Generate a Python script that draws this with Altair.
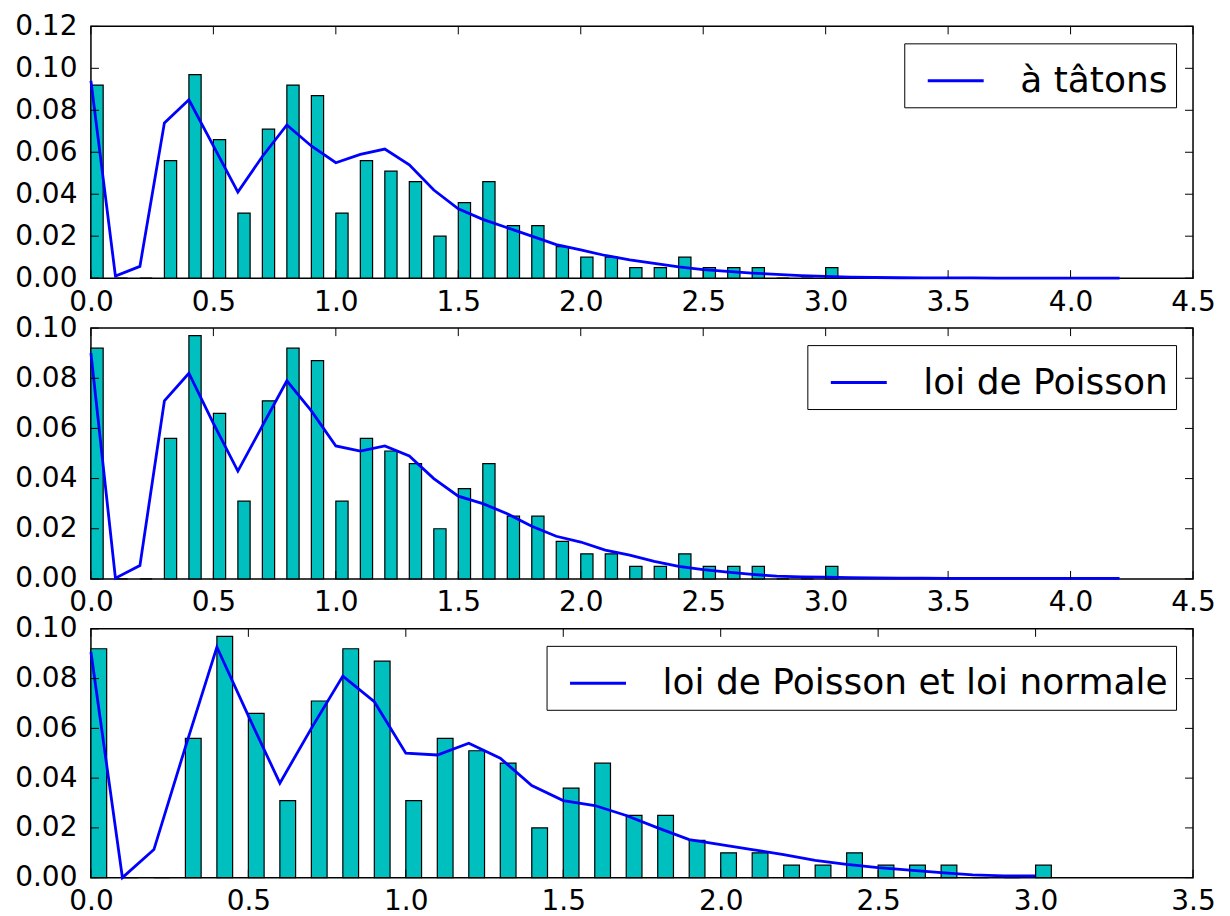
import altair as alt
import pandas as pd

# ---------------- data ----------------
bar_left = [0.0, 0.1, 0.2, 0.3, 0.4, 0.5, 0.6, 0.7, 0.8, 0.9, 1.0,
            1.1, 1.2, 1.3, 1.4, 1.5, 1.6, 1.7, 1.8, 1.9, 2.0,
            2.1, 2.2, 2.3, 2.4, 2.5, 2.6, 2.7, 2.8, 2.9, 3.0]
freq = [0.092, 0.0, 0.0, 0.056, 0.097, 0.066, 0.031, 0.071, 0.092, 0.087, 0.031,
        0.056, 0.051, 0.046, 0.020, 0.036, 0.046, 0.025, 0.025, 0.015, 0.010,
        0.010, 0.005, 0.005, 0.010, 0.005, 0.005, 0.005, 0.0, 0.0, 0.005]

x_long = [0.0, 0.1, 0.2, 0.3, 0.4, 0.5, 0.6, 0.7, 0.8, 0.9, 1.0,
          1.1, 1.2, 1.3, 1.4, 1.5, 1.6, 1.7, 1.8, 1.9, 2.0,
          2.1, 2.2, 2.3, 2.4, 2.5, 2.6, 2.7, 2.8, 2.9, 3.0,
          3.1, 3.2, 3.3, 3.4, 3.5, 3.6, 3.7, 3.8, 3.9, 4.0, 4.1, 4.2]
x_short = [0.0, 0.1, 0.2, 0.3, 0.4, 0.5, 0.6, 0.7, 0.8, 0.9, 1.0,
           1.1, 1.2, 1.3, 1.4, 1.5, 1.6, 1.7, 1.8, 1.9, 2.0,
           2.1, 2.2, 2.3, 2.4, 2.5, 2.6, 2.7, 2.8, 2.9, 3.0]

y_tatons = [0.094, 0.001, 0.0056, 0.074, 0.085, 0.063, 0.041, 0.058, 0.073, 0.063, 0.055,
            0.059, 0.0615, 0.054, 0.042, 0.033, 0.028, 0.024, 0.020, 0.016, 0.0135,
            0.0108, 0.0087, 0.0070, 0.0054, 0.0041, 0.0032, 0.0024, 0.0018, 0.0012, 0.0008,
            0.0005, 0.0003, 0.0002, 0.0001, 0.0001, 0.0001, 0.0, 0.0, 0.0, 0.0, 0.0, 0.0]
y_poisson = [0.090, 0.0003, 0.0053, 0.071, 0.082, 0.062, 0.043, 0.061, 0.079, 0.067, 0.053,
             0.051, 0.053, 0.049, 0.040, 0.033, 0.030, 0.026, 0.021, 0.017, 0.0147,
             0.0115, 0.0095, 0.0070, 0.0050, 0.0037, 0.0027, 0.0018, 0.0011, 0.0008, 0.0007,
             0.0005, 0.0004, 0.0003, 0.0003, 0.0002, 0.0002, 0.0002, 0.0002, 0.0002, 0.0002, 0.0002, 0.0002]
y_poisson_normale = [0.0907, 0.0, 0.0113, 0.0525, 0.0927, 0.065, 0.038, 0.060, 0.081, 0.0707, 0.050,
                     0.0493, 0.054, 0.048, 0.037, 0.031, 0.029, 0.025, 0.020, 0.0153, 0.0133,
                     0.0113, 0.0093, 0.0069, 0.0053, 0.0040, 0.0030, 0.0020, 0.0011, 0.0007, 0.0007]

labels = ["à tâtons", "loi de Poisson", "loi de Poisson et loi normale"]

xticks_45 = [0.0, 0.5, 1.0, 1.5, 2.0, 2.5, 3.0, 3.5, 4.0, 4.5]
xticks_35 = [0.0, 0.5, 1.0, 1.5, 2.0, 2.5, 3.0, 3.5]
yticks_12 = [0.0, 0.02, 0.04, 0.06, 0.08, 0.10, 0.12]
yticks_10 = [0.0, 0.02, 0.04, 0.06, 0.08, 0.10]

# ---------------- style ----------------
CYAN = "#00bfbf"
BLUE = "#0000ff"
FONT = "DejaVu Sans"
W = 1103
BAR_W = 0.05
TICK_LEN = 8

bars_df = pd.DataFrame({"x": bar_left, "y": freq})


def panel(line_x, line_y, label, xmax, ymax, xticks, yticks, h):
    xs = alt.Scale(domain=[0, xmax], nice=False, zero=False)
    ys = alt.Scale(domain=[0, ymax], nice=False)
    xa = alt.Axis(values=xticks, format=".1f", title=None)
    ya = alt.Axis(values=yticks, format=".2f", title=None)
    X = alt.X("x:Q", scale=xs, axis=xa)
    Y = alt.Y("y:Q", scale=ys, axis=ya)

    bars = alt.Chart(bars_df).transform_calculate(
        x2=f"datum.x + {BAR_W}"
    ).mark_rect(fill=CYAN, stroke="black", strokeWidth=1.2, opacity=1).encode(
        x=X, x2="x2:Q", y=Y, y2=alt.datum(0)
    )

    line_df = pd.DataFrame({"x": line_x, "y": line_y, "serie": [label] * len(line_x)})
    line = alt.Chart(line_df).mark_line(strokeWidth=2.8).encode(
        x=X, y=Y,
        color=alt.Color(
            "serie:N",
            scale=alt.Scale(domain=[label], range=[BLUE]),
            legend=alt.Legend(
                title=None, orient="top-right", offset=17, padding=8,
                fillColor="white", strokeColor="black", cornerRadius=0,
                symbolType="stroke", symbolSize=3136, symbolStrokeWidth=3,
                symbolOffset=14, labelFontSize=36, labelFont=FONT,
                labelColor="black", labelOffset=35, labelLimit=1200,
            ),
        ),
    )

    xt = pd.DataFrame({"x": xticks})
    yt = pd.DataFrame({"y": yticks})
    tick_b = alt.Chart(xt).mark_rule(color="black", strokeWidth=1).encode(
        x=X, y=alt.value(h), y2=alt.value(h - TICK_LEN))
    tick_t = alt.Chart(xt).mark_rule(color="black", strokeWidth=1).encode(
        x=X, y=alt.value(0), y2=alt.value(TICK_LEN))
    tick_l = alt.Chart(yt).mark_rule(color="black", strokeWidth=1).encode(
        y=Y, x=alt.value(0), x2=alt.value(TICK_LEN))
    tick_r = alt.Chart(yt).mark_rule(color="black", strokeWidth=1).encode(
        y=Y, x=alt.value(W), x2=alt.value(W - TICK_LEN))

    return alt.layer(bars, line, tick_b, tick_t, tick_l, tick_r).properties(width=W, height=h)


p1 = panel(x_long, y_tatons, labels[0], 4.5, 0.12, xticks_45, yticks_12, 252)
p2 = panel(x_long, y_poisson, labels[1], 4.5, 0.10, xticks_45, yticks_10, 251)
p3 = panel(x_short, y_poisson_normale, labels[2], 3.5, 0.10, xticks_35, yticks_10, 249)

chart = alt.vconcat(p1, p2, p3, spacing=50, bounds="flush").resolve_scale(
    color="independent", x="independent", y="independent"
).properties(
    padding={"left": 5, "top": 3, "right": 5, "bottom": 0}
).configure_axis(
    labelFont=FONT, labelFontSize=28, labelColor="black", domain=False,
    ticks=False, tickSize=0, grid=False, labelFlush=False, labelOverlap=False,
).configure_axisX(labelPadding=10).configure_axisY(labelPadding=14).configure_view(
    stroke="black", strokeWidth=1.5
)

chart.save("out.html", embed_options={"renderer": "svg", "actions": False})
